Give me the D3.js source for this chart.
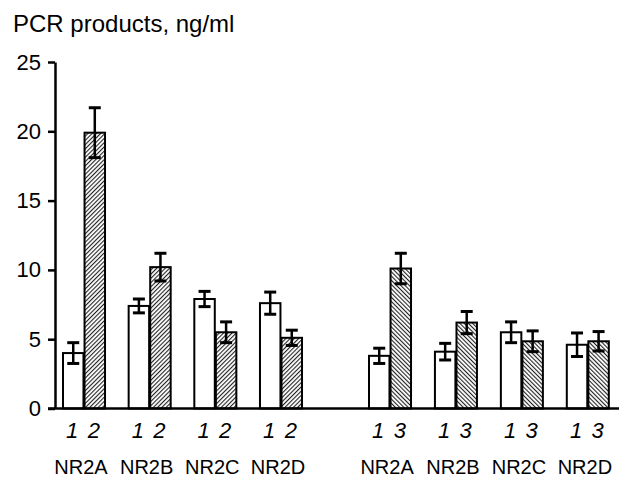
<!DOCTYPE html>
<html lang="en">
<head>
	<title>PCR products</title>
	<script src="https://d3js.org/d3.v7.min.js" charset="utf-8"></script>
	<style>
		body { margin: 0; background: #fff; }
		text {
			font-family: "Liberation Sans", Arial, sans-serif;
			fill: #000;
		}
	</style>
</head>
<body>
	<div id="chart"></div>
<script>
	// Data
	var genes = ["NR2A", "NR2B", "NR2C", "NR2D"];
	var leftNames = ["1", "2"];
	var rightNames = ["1", "3"];

	var left1 = [4.0, 7.4, 7.9, 7.6];
	var left1Err = [0.75, 0.5, 0.55, 0.8];
	var left2 = [19.9, 10.2, 5.5, 5.1];
	var left2Err = [1.8, 1.0, 0.75, 0.55];

	var right1 = [3.8, 4.1, 5.5, 4.6];
	var right1Err = [0.55, 0.6, 0.75, 0.85];
	var right3 = [10.1, 6.2, 4.85, 4.85];
	var right3Err = [1.1, 0.8, 0.75, 0.7];

	var yTicks = [0, 5, 10, 15, 20, 25];

	var w = 634, h = 479;

	var svg = d3.select("#chart")
		.append("svg")
		.attr("width", w)
		.attr("height", h);

	// hatch patterns: left panel "/", right panel "\"
	var defs = svg.append("defs");
	function hatch(id, angle) {
		var p = defs.append("pattern")
			.attr("id", id)
			.attr("patternUnits", "userSpaceOnUse")
			.attr("width", 3)
			.attr("height", 3)
			.attr("patternTransform", "rotate(" + angle + ")");
		p.append("rect").attr("width", 3).attr("height", 3).attr("fill", "#fff");
		p.append("rect").attr("width", 1.1).attr("height", 3).attr("fill", "#222");
	}
	hatch("hatchL", 45);
	hatch("hatchR", -45);

	var y = d3.scaleLinear().domain([0, 25]).range([408.5, 62]);

	// one band scale per panel
	var xLeft = d3.scaleBand().domain(genes).range([63, 302]).paddingInner(0.36).paddingOuter(0);
	var xRight = d3.scaleBand().domain(genes).range([369, 609]).paddingInner(0.36).paddingOuter(0);
	var inner = d3.scaleBand().domain([0, 1]).range([0, xLeft.bandwidth()]).paddingInner(0.05);

	function rows(vals, errs, k, x, fill, name) {
		return genes.map(function(g, i) {
			return { gene: g, v: vals[i], e: errs[i], k: k, x: x, fill: fill, name: name };
		});
	}
	var bars = [].concat(
		rows(left1, left1Err, 0, xLeft, "#fff", leftNames[0]),
		rows(left2, left2Err, 1, xLeft, "url(#hatchL)", leftNames[1]),
		rows(right1, right1Err, 0, xRight, "#fff", rightNames[0]),
		rows(right3, right3Err, 1, xRight, "url(#hatchR)", rightNames[1])
	);

	function bx(d) { return d.x(d.gene) + inner(d.k); }
	function cx(d) { return bx(d) + inner.bandwidth() / 2; }

	svg.selectAll("rect.bar")
		.data(bars)
		.enter()
		.append("rect")
		.attr("class", "bar")
		.attr("x", bx)
		.attr("y", function(d) { return y(d.v); })
		.attr("width", inner.bandwidth())
		.attr("height", function(d) { return y(0) - y(d.v); })
		.attr("fill", function(d) { return d.fill; })
		.attr("stroke", "#000")
		.attr("stroke-width", 2);

	// error bars
	var eb = svg.selectAll("g.err")
		.data(bars)
		.enter()
		.append("g")
		.attr("class", "err");
	eb.append("line")
		.attr("x1", cx).attr("x2", cx)
		.attr("y1", function(d) { return y(d.v + d.e); })
		.attr("y2", function(d) { return y(d.v - d.e); })
		.attr("stroke", "#000").attr("stroke-width", 2.5);
	[1, -1].forEach(function(s) {
		eb.append("line")
			.attr("x1", function(d) { return cx(d) - 6; })
			.attr("x2", function(d) { return cx(d) + 6; })
			.attr("y1", function(d) { return y(d.v + s * d.e); })
			.attr("y2", function(d) { return y(d.v + s * d.e); })
			.attr("stroke", "#000").attr("stroke-width", 3);
	});

	// y axis
	var yAxis = svg.append("g")
		.attr("transform", "translate(55,0)")
		.call(d3.axisLeft(y).tickValues(yTicks).tickSize(7).tickSizeOuter(0).tickPadding(7));
	yAxis.selectAll("path, line").attr("stroke", "#000").attr("stroke-width", 2.5);
	yAxis.selectAll("text").attr("font-size", 22).attr("font-family", "'Liberation Sans', Arial, sans-serif");

	// x axis line
	svg.append("line")
		.attr("x1", 48).attr("x2", 619)
		.attr("y1", y(0)).attr("y2", y(0))
		.attr("stroke", "#000").attr("stroke-width", 2.5);

	// bar number labels
	svg.selectAll("text.num")
		.data(bars)
		.enter()
		.append("text")
		.attr("class", "num")
		.attr("x", function(d) { return cx(d) - 1; })
		.attr("y", 438)
		.attr("text-anchor", "middle")
		.attr("font-style", "italic")
		.attr("font-size", 22)
		.text(function(d) { return d.name; });

	// gene labels
	[xLeft, xRight].forEach(function(x) {
		svg.selectAll(null)
			.data(genes)
			.enter()
			.append("text")
			.attr("x", function(g) { return x(g) + x.bandwidth() / 2 - 3; })
			.attr("y", 474)
			.attr("text-anchor", "middle")
			.attr("font-size", 20)
			.text(function(g) { return g; });
	});

	// axis title
	svg.append("text")
		.attr("x", 13)
		.attr("y", 32)
		.attr("font-size", 24)
		.text("PCR products, ng/ml");
</script>
</body>
</html>
